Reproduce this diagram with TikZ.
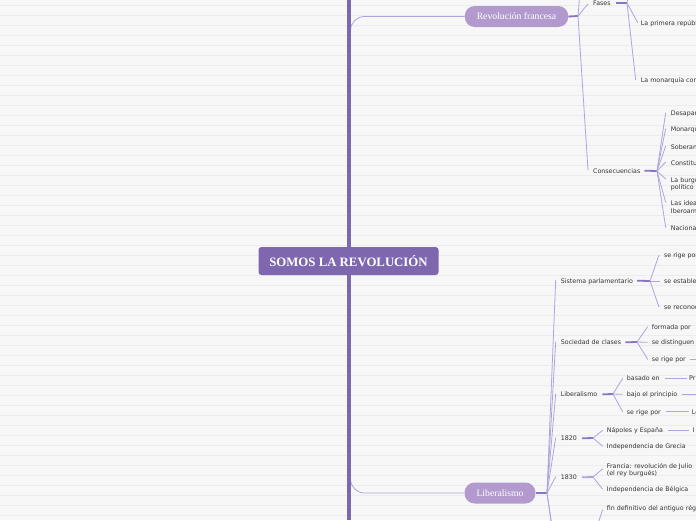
\documentclass[tikz,border=0pt]{standalone}
\usepackage{fontspec}
\setmainfont{Liberation Serif}
\newfontfamily\uifont{DejaVu Sans}
\usetikzlibrary{calc}
\definecolor{bg}{RGB}{247,247,247}
\definecolor{rulec}{RGB}{236,236,236}
\definecolor{trunkc}{RGB}{123,104,174}
\definecolor{rootfill}{RGB}{126,103,174}
\definecolor{mainfill}{RGB}{178,154,206}
\definecolor{thinc}{RGB}{176,164,220}
\definecolor{stubc}{RGB}{136,118,192}
\definecolor{txt}{RGB}{51,51,51}
\begin{document}
\begin{tikzpicture}[x=1pt,y=-1pt,
  leaf/.style={anchor=base west,inner sep=0pt,font=\uifont\fontsize{6.3}{7.6}\selectfont,text=txt,align=left},
  conn/.style={draw=thinc,line width=0.8pt},
  stubline/.style={draw=stubc,line width=1.8pt},
  lightstub/.style={draw=thinc,line width=1.8pt},
  mainnode/.style={fill=mainfill,rounded corners=10pt,text=white,font=\fontsize{9.7}{11}\selectfont,minimum height=21pt,inner xsep=12pt,inner ysep=0pt},
  rootnode/.style={fill=rootfill,rounded corners=3pt,text=white,font=\bfseries\fontsize{12.8}{14}\selectfont,minimum width=180pt,minimum height=28pt,inner sep=0pt}
]
\useasboundingbox (0,0) rectangle (696,520);
\clip (0,0) rectangle (696,520);
\fill[bg] (0,0) rectangle (696,520);
\foreach \yy in {5,15,...,515} \draw[rulec,line width=0.8pt] (0,\yy) -- (696,\yy);

% main nodes
\node[mainnode] (rf) at (516.5,16.5) {Revolución francesa};
\node[mainnode] (lib) at (500,493) {Liberalismo};

% trunk connectors (drawn before trunk)
\coordinate (tr) at (350.5,261);
\draw[conn,rounded corners=14pt] (tr) |- (rf.west);
\draw[conn,rounded corners=14pt] (tr) |- (lib.west);
% trunk
\coordinate (ttop) at (349,0);
\coordinate (tbot) at (349,520);
\draw[trunkc,line width=4pt] (ttop) -- (tbot);
\node[rootnode] (root) at (348.5,261) {SOMOS LA REVOLUCIÓN};

% ---------- Revolución francesa ----------
\coordinate (hrf) at (578,16);
\draw[stubline] (rf.east) -- (hrf);
\coordinate (rfup) at (580,-8);
\draw[conn] (hrf) -- (rfup);

\node[leaf] (fases) at (593,5.3) {Fases};
\node[leaf] (cons) at (593,173) {Consecuencias};
\draw[conn] (hrf) -- ($(fases.base west)+(-5,-1.5)$);
\draw[conn] (hrf) -- ($(cons.base west)+(-5,-3)$);

\coordinate (hfa) at (627,3);
\draw[stubline] ($(fases.base east)+(5,-2.3)$) -- (hfa);
\coordinate (faup) at (629,-10);
\draw[conn] (hfa) -- (faup);
\node[leaf] (prim) at (640.7,25) {La primera república};
\node[leaf] (mon) at (640.7,82.3) {La monarquía constitucional};
\draw[conn] (hfa) -- ($(prim.base west)+(-3,-2.3)$);
\draw[conn] (hfa) -- ($(mon.base west)+(-5,-2.3)$);

\coordinate (hco) at (657,171);
\draw[stubline] ($(cons.base east)+(4,-2.3)$) -- (hco);
\node[leaf] (c1) at (670.7,115.6) {Desaparición};
\node[leaf] (c2) at (670.7,131.6) {Monarquía};
\node[leaf] (c3) at (670.7,149) {Soberanía};
\node[leaf] (c4) at (670.7,165) {Constitución};
\node[leaf] (c5) at (670.7,189.8) {La burguesía\\político};
\node[leaf] (c6) at (670.7,213) {Las ideas\\Iberoamérica};
\node[leaf] (c7) at (670.7,230.6) {Nacionalismo};
\foreach \c in {c1,c2,c3,c4,c7}
  \draw[conn] (hco) -- ($(\c.base west)+(-5,-3)$);
\draw[conn] (hco) -- ($(c5.north west)+(-5,2)$);
\draw[conn] (hco) -- ($(c6.north west)+(-5,2)$);

% ---------- Liberalismo ----------
\coordinate (hlib) at (547,493);
\draw[stubline] (lib.east) -- (hlib);

\node[leaf] (sp) at (560.7,283) {Sistema parlamentario};
\node[leaf] (sc) at (560.7,344.6) {Sociedad de clases};
\node[leaf] (li) at (560.7,396.6) {Liberalismo};
\node[leaf] (y20) at (560.7,440.6) {1820};
\node[leaf] (y30) at (560.7,479.6) {1830};
\foreach \c in {sp,sc,li,y20,y30}
  \draw[conn] (hlib) -- ($(\c.base west)+(-5,-3)$);
\coordinate (libd1) at (553,535);
\coordinate (libd2) at (557,560);
\draw[conn] (hlib) -- (libd1);
\draw[conn] (hlib) -- (libd2);

% Sistema parlamentario
\coordinate (hsp) at (650,281);
\draw[stubline] ($(sp.base east)+(4,-2.3)$) -- (hsp);
\node[leaf] (sp1) at (664,257.3) {se rige por};
\node[leaf] (sp2) at (664,283.3) {se establece};
\node[leaf] (sp3) at (664,309.3) {se reconoce};
\draw[conn] (hsp) -- ($(sp1.base west)+(-5,-2.3)$);
\draw[conn] (hsp) -- ($(sp2.base west)+(-4,-2.3)$);
\draw[conn] (hsp) -- ($(sp3.base west)+(-5,-2.3)$);

% Sociedad de clases
\coordinate (hsc) at (637,342);
\draw[stubline] ($(sc.base east)+(4,-2.3)$) -- (hsc);
\node[leaf] (sc1) at (651.7,329) {formada por};
\node[leaf] (sc2) at (651.7,344.6) {se distinguen};
\node[leaf] (sc3) at (651.7,361.6) {se rige por};
\draw[conn] (hsc) -- ($(sc1.base west)+(-4,-2.3)$);
\draw[conn] (hsc) -- ($(sc2.base west)+(-4,-2.3)$);
\draw[conn] (hsc) -- ($(sc3.base west)+(-4,-2.3)$);
\coordinate (sc3r) at (700,359.3);
\draw[conn] ($(sc3.base east)+(4,-2.3)$) -- (sc3r);

% Liberalismo (sub)
\coordinate (hli) at (613,394);
\draw[stubline] ($(li.base east)+(5,-2.3)$) -- (hli);
\node[leaf] (li1) at (626.7,380.6) {basado en};
\node[leaf] (li2) at (626.7,396.6) {bajo el principio};
\node[leaf] (li3) at (626.7,414) {se rige por};
\draw[conn] (hli) -- ($(li1.base west)+(-4,-2.3)$);
\draw[conn] (hli) -- ($(li2.base west)+(-4,-2.3)$);
\draw[conn] (hli) -- ($(li3.base west)+(-4,-2.3)$);
\node[leaf] (pr) at (689,380.6) {Pr};
\node[leaf] (le) at (691.7,414) {Le};
\coordinate (li2r) at (700,394.3);
\draw[conn] ($(li1.base east)+(5,-2.3)$) -- ($(pr.base west)+(-2,-2.3)$);
\draw[conn] ($(li2.base east)+(5,-2.3)$) -- (li2r);
\draw[conn] ($(li3.base east)+(5,-2.3)$) -- ($(le.base west)+(-3,-2.3)$);

% 1820
\coordinate (h20) at (593,438);
\draw[stubline] ($(y20.base east)+(5,-2.3)$) -- (h20);
\node[leaf] (n1) at (606.7,432.6) {Nápoles y España};
\node[leaf] (n2) at (606.7,448.6) {Independencia de Grecia};
\draw[conn] (h20) -- ($(n1.base west)+(-4,-2.3)$);
\draw[conn] (h20) -- ($(n2.base west)+(-4,-2.3)$);
\node[leaf] (ins) at (692.7,432.6) {I};
\draw[conn] ($(n1.base east)+(5,-2.3)$) -- ($(ins.base west)+(-4,-2.3)$);

% 1830
\coordinate (h30) at (593,477);
\draw[lightstub] ($(y30.base east)+(5,-2.3)$) -- (h30);
\node[leaf] (f1) at (606.7,475.6) {Francia: revolución de Julio\\(el rey burgués)};
\node[leaf] (f2) at (606.7,491.6) {Independencia de Bélgica};
\draw[conn] (h30) -- ($(f1.north west)+(-4,6)$);
\draw[conn] (h30) -- ($(f2.base west)+(-4,-2.3)$);

% fin definitivo
\coordinate (hfin) at (594,535);
\node[leaf] (fin) at (606.7,510.6) {fin definitivo del antiguo régimen};
\draw[conn] (hfin) -- ($(fin.base west)+(-4,-1)$);
\end{tikzpicture}
\end{document}
